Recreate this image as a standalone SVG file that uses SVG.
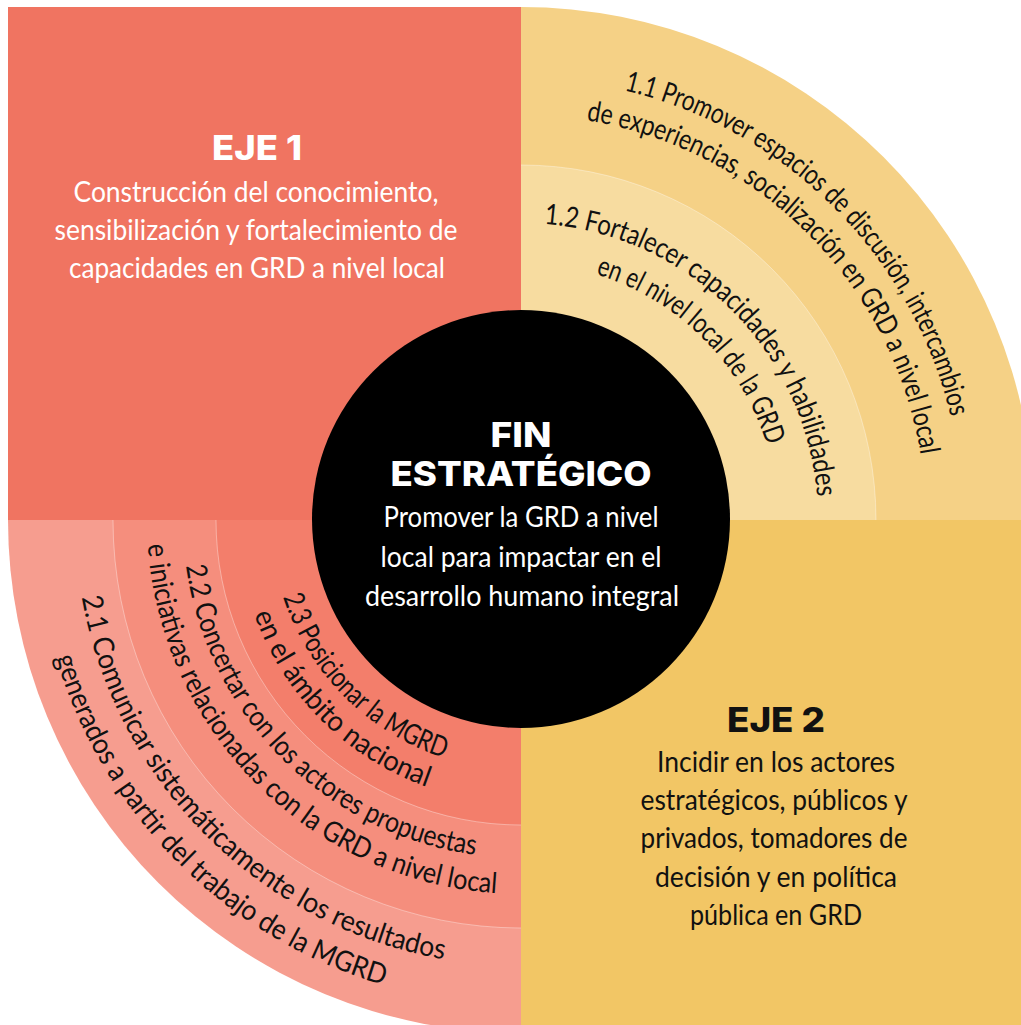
<svg xmlns="http://www.w3.org/2000/svg" width="1021" height="1025" viewBox="0 0 1021 1025">
  <style>
    .body { font-family: Lato, "Open Sans", "Liberation Sans", sans-serif; font-size: 28px; }
    .head { font-family: Inter, Lato, "Liberation Sans", sans-serif; font-weight: 800; font-size: 34px; }
    .arc { font-family: Lato, "Open Sans", "Liberation Sans", sans-serif; font-size: 28.5px; fill: #111; }
    .white { fill: #ffffff; }
    .dark { fill: #111111; }
    .sep { fill: none; stroke: #ffffff; stroke-opacity: 0.35; stroke-width: 1; }
  </style>
  <defs>
    <!-- top-right arcs: clockwise from top to right, centre (521,520) -->
    <path id="p11a" d="M521,78 A442,442 0 0 1 963,520"/>
    <path id="p11b" d="M521,115 A405,405 0 0 1 926,520"/>
    <path id="p12a" d="M521,223 A297,297 0 0 1 818,520"/>
    <path id="p12b" d="M521,263 A257,257 0 0 1 778,520"/>
    <!-- bottom-left arcs: counter-clockwise from left to bottom -->
    <path id="p21a" d="M75,520 A446,446 0 0 0 521,966"/>
    <path id="p21b" d="M36,520 A485,485 0 0 0 521,1005"/>
    <path id="p22a" d="M183,520 A338,338 0 0 0 521,858"/>
    <path id="p22b" d="M147,520 A374,374 0 0 0 521,894"/>
    <path id="p23a" d="M271,520 A250,250 0 0 0 521,770"/>
    <path id="p23b" d="M238,520 A283,283 0 0 0 521,803"/>
  </defs>

  <!-- EJE 1 quadrant -->
  <g id="eje1">
    <rect x="8" y="7" width="513" height="513" fill="#F07461"/>
    <text class="head white" x="257" y="160" text-anchor="middle" textLength="90" lengthAdjust="spacingAndGlyphs">EJE 1</text>
    <text class="body white" x="256" y="202" text-anchor="middle" textLength="365" lengthAdjust="spacingAndGlyphs">Construcción del conocimiento,</text>
    <text class="body white" x="256" y="240" text-anchor="middle" textLength="403" lengthAdjust="spacingAndGlyphs">sensibilización y fortalecimiento de</text>
    <text class="body white" x="257" y="278" text-anchor="middle" textLength="376" lengthAdjust="spacingAndGlyphs">capacidades en GRD a nivel local</text>
  </g>

  <!-- 1.1 band -->
  <g id="linea-1-1">
    <path d="M521,520 L521,7 A513,513 0 0 1 1034,520 Z" fill="#F5D186"/>
    <text class="arc"><textPath href="#p11a" startOffset="50%" text-anchor="middle" textLength="486" lengthAdjust="spacingAndGlyphs">1.1 Promover espacios de discusión, intercambios</textPath></text>
    <text class="arc"><textPath href="#p11b" startOffset="50%" text-anchor="middle" textLength="505" lengthAdjust="spacingAndGlyphs">de experiencias, socialización en GRD a nivel local</textPath></text>
  </g>

  <!-- 1.2 band -->
  <g id="linea-1-2">
    <path d="M521,520 L521,165 A355,355 0 0 1 876,520 Z" fill="#F7DCA0"/>
    <path class="sep" d="M521,165 A355,355 0 0 1 876,520"/>
    <text class="arc"><textPath href="#p12a" startOffset="50%" text-anchor="middle" textLength="420" lengthAdjust="spacingAndGlyphs">1.2 Fortalecer capacidades y habilidades</textPath></text>
    <text class="arc"><textPath href="#p12b" startOffset="50%" text-anchor="middle" textLength="252" lengthAdjust="spacingAndGlyphs">en el nivel local de la GRD</textPath></text>
  </g>

  <!-- EJE 2 quadrant -->
  <g id="eje2">
    <rect x="521" y="520" width="500" height="505" fill="#F2C665"/>
    <text class="head dark" x="776" y="732" text-anchor="middle" textLength="98" lengthAdjust="spacingAndGlyphs">EJE 2</text>
    <text class="body dark" x="776" y="772" text-anchor="middle" textLength="238" lengthAdjust="spacingAndGlyphs">Incidir en los actores</text>
    <text class="body dark" x="774" y="810" text-anchor="middle" textLength="267" lengthAdjust="spacingAndGlyphs">estratégicos, públicos y</text>
    <text class="body dark" x="774" y="848" text-anchor="middle" textLength="267" lengthAdjust="spacingAndGlyphs">privados, tomadores de</text>
    <text class="body dark" x="776" y="887" text-anchor="middle" textLength="242" lengthAdjust="spacingAndGlyphs">decisión y en política</text>
    <text class="body dark" x="776" y="925" text-anchor="middle" textLength="172" lengthAdjust="spacingAndGlyphs">pública en GRD</text>
  </g>

  <!-- 2.1 band -->
  <g id="linea-2-1">
    <path d="M521,520 L8,520 A513,513 0 0 0 521,1033 Z" fill="#F69D8F"/>
    <text class="arc"><textPath href="#p21a" startOffset="50%" text-anchor="middle" textLength="545" lengthAdjust="spacingAndGlyphs">2.1 Comunicar sistemáticamente los resultados</textPath></text>
    <text class="arc"><textPath href="#p21b" startOffset="50%" text-anchor="middle" textLength="483" lengthAdjust="spacingAndGlyphs">generados a partir del trabajo de la MGRD</textPath></text>
  </g>

  <!-- 2.2 band -->
  <g id="linea-2-2">
    <path d="M521,520 L113,520 A408,408 0 0 0 521,928 Z" fill="#F58E7D"/>
    <path class="sep" d="M113,520 A408,408 0 0 0 521,928"/>
    <text class="arc"><textPath href="#p22a" startOffset="50%" text-anchor="middle" textLength="439" lengthAdjust="spacingAndGlyphs">2.2 Concertar con los actores propuestas</textPath></text>
    <text class="arc"><textPath href="#p22b" startOffset="50%" text-anchor="middle" textLength="538" lengthAdjust="spacingAndGlyphs">e iniciativas relacionadas con la GRD a nivel local</textPath></text>
  </g>

  <!-- 2.3 band -->
  <g id="linea-2-3">
    <path d="M521,520 L216,520 A305,305 0 0 0 521,825 Z" fill="#F37E6B"/>
    <path class="sep" d="M216,520 A305,305 0 0 0 521,825"/>
    <text class="arc"><textPath href="#p23a" startOffset="50%" text-anchor="middle" textLength="236" lengthAdjust="spacingAndGlyphs">2.3 Posicionar la MGRD</textPath></text>
    <text class="arc"><textPath href="#p23b" startOffset="50%" text-anchor="middle" textLength="252" lengthAdjust="spacingAndGlyphs">en el ámbito nacional</textPath></text>
  </g>

  <!-- centre -->
  <g id="fin-estrategico">
    <circle cx="521" cy="519" r="209" fill="#000000"/>
    <text class="head white" x="521" y="447" text-anchor="middle" textLength="61" lengthAdjust="spacingAndGlyphs">FIN</text>
    <text class="head white" x="521" y="486" text-anchor="middle" textLength="261" lengthAdjust="spacingAndGlyphs">ESTRATÉGICO</text>
    <text class="body white" x="521" y="527" text-anchor="middle" textLength="275" lengthAdjust="spacingAndGlyphs">Promover la GRD a nivel</text>
    <text class="body white" x="521" y="567" text-anchor="middle" textLength="281" lengthAdjust="spacingAndGlyphs">local para impactar en el</text>
    <text class="body white" x="522" y="606" text-anchor="middle" textLength="314" lengthAdjust="spacingAndGlyphs">desarrollo humano integral</text>
  </g>

  <g id="connectors"/>
</svg>
